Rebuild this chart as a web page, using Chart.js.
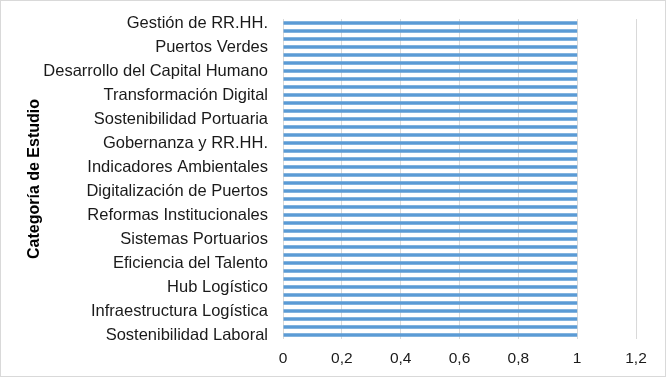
<!DOCTYPE html>
<html>
<head>
<meta charset="utf-8">
<script src="https://cdn.jsdelivr.net/npm/chart.js@4"></script>
<style>
  html, body { margin: 0; padding: 0; background: #fff; }
  #wrap { position: relative; width: 666px; height: 377px; box-sizing: border-box; border: 1px solid #d9d9d9; }
</style>
</head>
<body>
<div id="wrap"><canvas id="barChart" width="664" height="375"></canvas></div>
<script>
// 40 categories, top to bottom; only every third one is labelled in the picture
const categories = [
  'Gestión de RR.HH.', '', '',
  'Puertos Verdes', '', '',
  'Desarrollo del Capital Humano', '', '',
  'Transformación Digital', '', '',
  'Sostenibilidad Portuaria', '', '',
  'Gobernanza y RR.HH.', '', '',
  'Indicadores Ambientales', '', '',
  'Digitalización de Puertos', '', '',
  'Reformas Institucionales', '', '',
  'Sistemas Portuarios', '', '',
  'Eficiencia del Talento', '', '',
  'Hub Logístico', '', '',
  'Infraestructura Logística', '', '',
  'Sostenibilidad Laboral'
];
const values = [
  1, 1, 1, 1, 1, 1, 1, 1, 1, 1,
  1, 1, 1, 1, 1, 1, 1, 1, 1, 1,
  1, 1, 1, 1, 1, 1, 1, 1, 1, 1,
  1, 1, 1, 1, 1, 1, 1, 1, 1, 1
];
const xTicks = [0, 0.2, 0.4, 0.6, 0.8, 1, 1.2];

const txt = '#1a1a1a';
const gridCol = '#d9d9d9';

new Chart(document.getElementById('barChart'), {
  type: 'bar',
  data: {
    labels: categories,
    datasets: [{
      label: 'Serie 1',
      data: values,
      backgroundColor: '#5b9bd5',
      borderWidth: 0,
      barPercentage: 0.45,
      categoryPercentage: 1
    }]
  },
  options: {
    indexAxis: 'y',
    responsive: false,
    animation: false,
    layout: { padding: { top: 18, right: 29, left: 0, bottom: 0 } },
    plugins: {
      legend: { display: false },
      tooltip: { enabled: false }
    },
    scales: {
      x: {
        min: 0,
        max: 1.2,
        afterBuildTicks: s => { s.ticks = xTicks.map(v => ({ value: v })); },
        afterFit: s => { s.height = 37; },
        ticks: {
          color: txt,
          font: { family: 'Liberation Sans, Arial', size: 15.5 },
          padding: 10,
          maxRotation: 0,
          callback: v => String(+v.toFixed(1)).replace('.', ',')
        },
        grid: { color: gridCol, lineWidth: 1, drawTicks: false },
        border: { display: false }
      },
      y: {
        afterFit: s => {
          s.width = 282;
          s.paddingTop = 0;
          s.paddingBottom = 0;
        },
        ticks: {
          color: txt,
          autoSkip: false,
          font: { family: 'Liberation Sans, Arial', size: 16.5 },
          padding: 15
        },
        grid: { display: false, drawTicks: false },
        border: { display: false },
        title: {
          display: true,
          text: 'Categoría de Estudio',
          color: '#000',
          font: { family: 'Liberation Sans, Arial', size: 16, weight: 'bold' },
          padding: { top: 24, bottom: 0 }
        }
      }
    }
  }
});
</script>
</body>
</html>
